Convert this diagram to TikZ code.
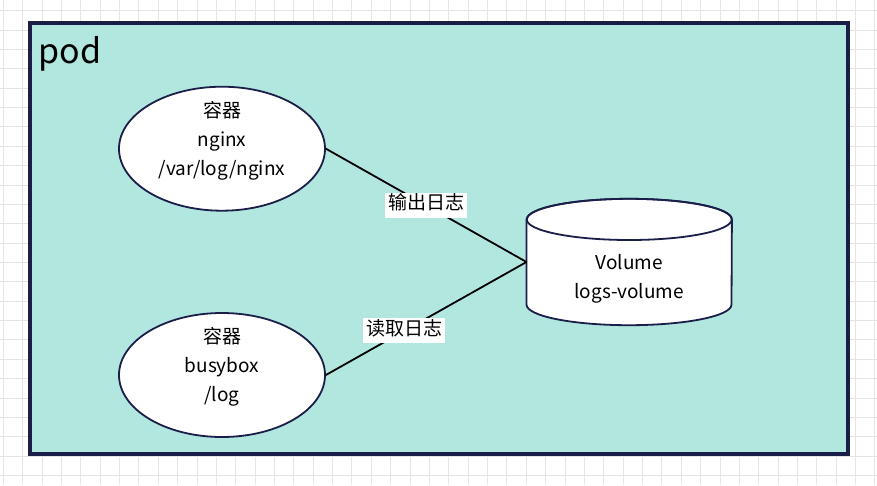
\documentclass[tikz,border=0pt]{standalone}
\usepackage{fontspec}
\setmainfont{Noto Sans CJK SC}
\usepackage{xcolor}
\usepackage{tikz}
\usetikzlibrary{shapes.geometric}
\usetikzlibrary{positioning}
\tikzset{>=stealth}
\definecolor{podfill}{RGB}{178,231,224}
\definecolor{navy}{RGB}{26,30,72}
\definecolor{gridgray}{RGB}{228,228,228}

\begin{document}
\begin{tikzpicture}[x=1pt, y=-1pt, node distance = 100.5pt,
        every node/.style={font=\fontsize{19}{29}\selectfont},
        box/.style={ellipse, draw=navy, line width=1.8pt, fill=white, minimum width=206pt, minimum height=124pt, inner sep=0pt},
        tag/.style={fill=white, inner sep=3pt, text height=14pt, text depth=5pt}]
        \useasboundingbox (0,0) rectangle (877,485);
        \foreach \k in {0,...,45} \draw[gridgray, line width=1pt] (3.3+19.37*\k,0) -- (3.3+19.37*\k,485);
        \foreach \k in {0,...,24} \draw[gridgray, line width=1pt] (0,10.7+19.37*\k) -- (877,10.7+19.37*\k);

        \node[draw=navy, fill=podfill, line width=4pt, minimum width=818pt, minimum height=431pt, inner sep=0pt] (pod) at (439,238.5) {};
        \node[font=\fontsize{34}{40}\selectfont, anchor=base west] (podname) at (35,63) {pod};

        \node[box] (nginx) at (222,148.7) {};
        \node[box, below = of nginx] (busybox) {};
        % volume: a plain node, the cylinder is drawn on its anchors
        \node[minimum width=205pt, minimum height=126pt, inner sep=0pt] (vol) at (629.2,262) {};
        \draw[navy, line width=1.8pt, fill=white] ([yshift=-20.6pt]vol.north west) -- ([yshift=20.6pt]vol.south west)
            arc[start angle=180, end angle=360, x radius=102.5pt, y radius=20.6pt] -- ([yshift=-20.6pt]vol.north east)
            arc[start angle=0, end angle=180, x radius=102.5pt, y radius=20.6pt] -- cycle;
        \draw[navy, line width=1.8pt] ([yshift=-20.6pt]vol.north) ellipse[x radius=102.5pt, y radius=20.6pt];

        \node[align=center] (nginx-txt) at ([yshift=8pt]nginx.center) {容器\\nginx\\/var/log/nginx};
        \node[align=center] (busybox-txt) at ([yshift=8pt]busybox.center) {容器\\busybox\\/log};
        \node[align=center] (vol-txt) at ([yshift=-17pt]vol.center) {Volume\\logs-volume};

        \draw [line width=1.8pt] (nginx.east) -- node[tag, pos=.5] (out) {输出日志} (vol.west);
        \draw [line width=1.8pt] (busybox.east) -- node[tag, pos=.39] (read) {读取日志} (vol.west);
    \end{tikzpicture}
\end{document}
